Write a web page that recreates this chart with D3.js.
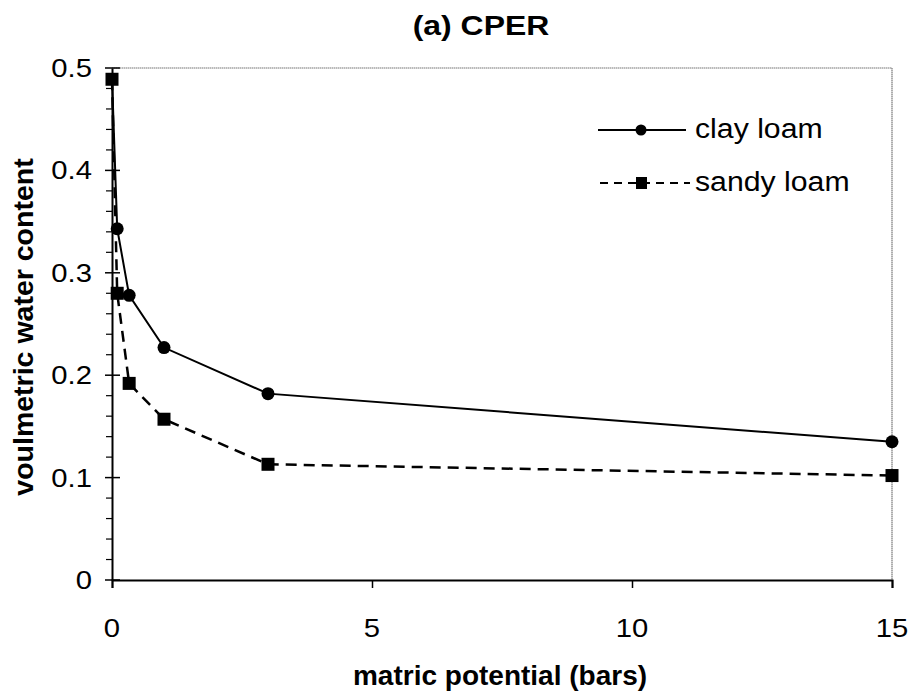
<!DOCTYPE html>
<html><head><meta charset="utf-8">
<script src="https://cdn.jsdelivr.net/npm/d3@7"></script>
<style>body{margin:0;background:#fff}svg{display:block;font-family:"Liberation Sans",Arial,sans-serif}</style>
</head><body>
<svg id="c" width="912" height="698"></svg>
<script>
const clayX = [0, 0.1, 0.33, 1, 3, 15];
const clayY = [0.49, 0.343, 0.278, 0.227, 0.182, 0.135];
const sandyX = [0, 0.1, 0.33, 1, 3, 15];
const sandyY = [0.489, 0.28, 0.192, 0.157, 0.113, 0.102];
const xTicks = [0, 5, 10, 15];
const yTicks = [0, 0.1, 0.2, 0.3, 0.4, 0.5];
const yTickLabels = ["0", "0.1", "0.2", "0.3", "0.4", "0.5"];
const seriesNames = ["clay loam", "sandy loam"];

const svg = d3.select("#c");
const L = 112, R = 892, T = 68, B = 580;
const x = d3.scaleLinear().domain([0, 15]).range([L, R]);
const y = d3.scaleLinear().domain([0, 0.5]).range([B, T]);

function stext(px, py, str, size, sx, anchor, bold, rot) {
  const t = svg.append("text")
    .attr("transform", `translate(${px},${py})` + (rot ? ` rotate(${rot})` : "") + ` scale(${sx},1)`)
    .attr("font-size", size).attr("text-anchor", anchor || "start").attr("fill", "#000").text(str);
  if (bold) t.attr("font-weight", "bold");
  return t;
}

// frame top/right (thin gray dotted)
svg.append("line").attr("x1", L).attr("x2", R).attr("y1", T).attr("y2", T)
  .attr("stroke", "#777").attr("stroke-width", 1.2).attr("stroke-dasharray", "1.5,0.5");
svg.append("line").attr("x1", R).attr("x2", R).attr("y1", T).attr("y2", B)
  .attr("stroke", "#777").attr("stroke-width", 1.2).attr("stroke-dasharray", "1.5,0.5");

// y axis
const ya = svg.append("g").attr("transform", `translate(${L},0)`)
  .call(d3.axisLeft(y).tickValues(yTicks).tickSize(0).tickFormat(""));
ya.select(".domain").attr("stroke", "#000").attr("stroke-width", 2);
yTicks.forEach((v, i) => stext(92, y(v) + 9, yTickLabels[i], 25, 1.17, "end"));
svg.selectAll(".ymaj").data(yTicks).enter().append("line")
  .attr("x1", L - 7).attr("x2", L + 8).attr("y1", d => y(d)).attr("y2", d => y(d))
  .attr("stroke", "#000").attr("stroke-width", 1.5);
const yMinor = d3.range(0, 0.5001, 0.02).filter(v => Math.abs(v * 10 - Math.round(v * 10)) > 1e-6);
svg.selectAll(".ymin").data(yMinor).enter().append("line")
  .attr("x1", L - 6).attr("x2", L).attr("y1", d => y(d)).attr("y2", d => y(d))
  .attr("stroke", "#000").attr("stroke-width", 1.2);

// x axis
const xa = svg.append("g").attr("transform", `translate(0,${B})`)
  .call(d3.axisBottom(x).tickValues(xTicks).tickSize(8).tickFormat(""));
xa.select(".domain").attr("stroke", "#000").attr("stroke-width", 2);
xa.selectAll(".tick line").attr("stroke", "#000").attr("stroke-width", 1.5);
xTicks.forEach(v => stext(x(v), 637, d3.format("d")(v), 25, 1.17, "middle"));

// lines
const line = d3.line().x(d => x(d[0])).y(d => y(d[1]));
const clay = clayX.map((v, i) => [v, clayY[i]]);
const sandy = sandyX.map((v, i) => [v, sandyY[i]]);
svg.append("path").datum(clay).attr("d", line).attr("fill", "none").attr("stroke", "#000").attr("stroke-width", 2);
svg.append("path").datum(sandy).attr("d", line).attr("fill", "none").attr("stroke", "#000").attr("stroke-width", 2.5).attr("stroke-dasharray", "11,7");
svg.selectAll(".cp").data(clay.slice(1)).enter().append("circle")
  .attr("cx", d => x(d[0])).attr("cy", d => y(d[1])).attr("r", 6.5).attr("fill", "#000");
svg.selectAll(".sp").data(sandy).enter().append("rect")
  .attr("x", d => x(d[0]) - 6.5).attr("y", d => y(d[1]) - 6.5).attr("width", 13).attr("height", 13).attr("fill", "#000");

// legend
svg.append("line").attr("x1", 598).attr("x2", 686).attr("y1", 130).attr("y2", 130).attr("stroke", "#000").attr("stroke-width", 2);
svg.append("circle").attr("cx", 641).attr("cy", 130).attr("r", 5.5).attr("fill", "#000");
stext(695, 138, seriesNames[0], 27, 1.12, "start");
svg.append("line").attr("x1", 600).attr("x2", 690).attr("y1", 183).attr("y2", 183).attr("stroke", "#000").attr("stroke-width", 2).attr("stroke-dasharray", "8,6");
svg.append("rect").attr("x", 636).attr("y", 177).attr("width", 11).attr("height", 12).attr("fill", "#000");
stext(695, 191, seriesNames[1], 27, 1.12, "start");

// titles
stext(481, 35, "(a) CPER", 28, 1.14, "middle", true);
stext(500, 685, "matric potential (bars)", 28, 1.0, "middle", true);
stext(33, 327, "voulmetric water content", 28.5, 1.0, "middle", true, -90);
</script>
</body></html>
